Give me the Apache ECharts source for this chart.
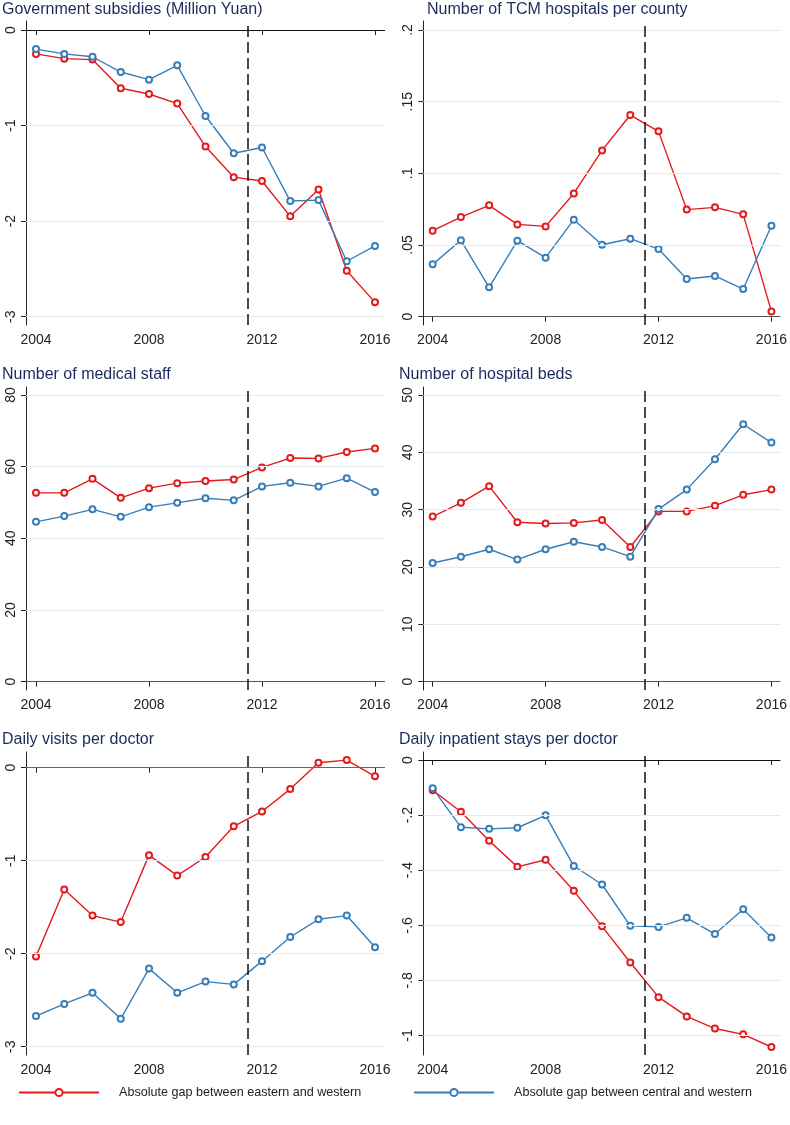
<!DOCTYPE html>
<html><head><meta charset="utf-8">
<script src="https://cdn.jsdelivr.net/npm/echarts@6/dist/echarts.min.js"></script>
<style>html,body{margin:0;padding:0;background:#fff}#c{width:790px;height:1125px}</style>
</head><body><div id="c"></div>
<script>
// ---------- DATA ----------
const years = [2004,2005,2006,2007,2008,2009,2010,2011,2012,2013,2014,2015,2016];
const seriesNames = ['Absolute gap between eastern and western', 'Absolute gap between central and western'];
const xTicks = [2004, 2008, 2012, 2016];
const reformYear = 2011.5;

const titles = ['Government subsidies (Million Yuan)', 'Number of TCM hospitals per county',
  'Number of medical staff', 'Number of hospital beds',
  'Daily visits per doctor', 'Daily inpatient stays per doctor'];

const subsidyEast    = [-0.25,-0.30,-0.31,-0.61,-0.67,-0.77,-1.22,-1.54,-1.58,-1.95,-1.67,-2.52,-2.85];
const subsidyCentral = [-0.20,-0.25,-0.28,-0.44,-0.52,-0.37,-0.90,-1.29,-1.23,-1.79,-1.78,-2.42,-2.26];
const subsidyTicks   = [0,-1,-2,-3];

const tcmEast    = [0.060,0.0695,0.0777,0.0644,0.0630,0.0860,0.116,0.1407,0.1293,0.0747,0.0763,0.0714,0.0037];
const tcmCentral = [0.0365,0.0533,0.0205,0.0530,0.0412,0.0677,0.0502,0.0544,0.0472,0.0263,0.0284,0.0193,0.0635];
const tcmTicks   = [0,0.05,0.1,0.15,0.2];

const staffEast    = [52.7,52.7,56.6,51.3,54.0,55.4,56.0,56.4,59.8,62.4,62.3,64.1,65.1];
const staffCentral = [44.6,46.2,48.1,46.0,48.7,49.9,51.2,50.6,54.5,55.5,54.5,56.8,52.9];
const staffTicks   = [0,20,40,60,80];

const bedsEast    = [28.8,31.2,34.1,27.8,27.6,27.7,28.2,23.5,29.7,29.7,30.7,32.6,33.5];
const bedsCentral = [20.7,21.8,23.1,21.3,23.1,24.4,23.5,21.8,30.1,33.5,38.8,44.9,41.7];
const bedsTicks   = [0,10,20,30,40,50];

const visitsEast    = [-2.03,-1.31,-1.59,-1.66,-0.94,-1.16,-0.96,-0.63,-0.47,-0.23,0.054,0.082,-0.093];
const visitsCentral = [-2.67,-2.54,-2.42,-2.70,-2.16,-2.42,-2.30,-2.33,-2.08,-1.82,-1.63,-1.59,-1.93];
const visitsTicks   = [0,-1,-2,-3];

const staysEast    = [-0.110,-0.188,-0.293,-0.388,-0.362,-0.475,-0.604,-0.735,-0.861,-0.931,-0.975,-0.996,-1.042];
const staysCentral = [-0.103,-0.244,-0.250,-0.246,-0.201,-0.385,-0.452,-0.602,-0.606,-0.573,-0.632,-0.542,-0.644];
const staysTicks   = [0,-0.2,-0.4,-0.6,-0.8,-1];

// ---------- LAYOUT / STYLE ----------
const FONT = 'Liberation Sans, Arial, Helvetica, sans-serif';
const RED = '#e41a1c', BLUE = '#377eb8';
const GRIDC = '#e4ecef';
const cols = [
  {left: 26, width: 359, xmin: 2003.646, xmax: 2016.354},
  {left: 423.3, width: 358.4, xmin: 2003.668, xmax: 2016.318}
];
const rows = [
  {top: 21, height: 304, titleTop: -3},
  {top: 387, height: 303, titleTop: 362},
  {top: 752, height: 303, titleTop: 727}
];
const panels = [
  {east: subsidyEast, central: subsidyCentral, ticks: subsidyTicks, min: -3.087, max: 0.094, zero: '#111', titleLeft: 2},
  {east: tcmEast, central: tcmCentral, ticks: tcmTicks, min: -0.0058, max: 0.2063, zero: '#555', titleLeft: 427},
  {east: staffEast, central: staffCentral, ticks: staffTicks, min: -2.32, max: 82.23, zero: '#555', titleLeft: 2},
  {east: bedsEast, central: bedsCentral, ticks: bedsTicks, min: -1.45, max: 51.40, zero: '#555', titleLeft: 399},
  {east: visitsEast, central: visitsCentral, ticks: visitsTicks, min: -3.089, max: 0.169, zero: '#666', titleLeft: 2},
  {east: staysEast, central: staysCentral, ticks: staysTicks, min: -1.071, max: 0.029, zero: '#111', titleLeft: 399}
];

function fmt(v) {
  let s = String(+Number(v).toFixed(4));
  return s.replace(/^(-?)0\./, '$1.');
}

const option = {
  backgroundColor: '#fff',
  animation: false,
  textStyle: {fontFamily: FONT},
  title: [], grid: [], xAxis: [], yAxis: [], series: [],
  legend: [
    {left: 13, top: 1081, itemWidth: 80, itemHeight: 9, data: [seriesNames[0]],
     textStyle: {fontFamily: FONT, fontSize: 12.6, color: '#222', padding: [0,0,0,15]}, selectedMode: false},
    {left: 408, top: 1081, itemWidth: 80, itemHeight: 9, data: [seriesNames[1]],
     textStyle: {fontFamily: FONT, fontSize: 12.6, color: '#222', padding: [0,0,0,15]}, selectedMode: false}
  ]
};

panels.forEach((p, i) => {
  const c = cols[i % 2], r = rows[Math.floor(i / 2)];
  option.title.push({text: titles[i], left: p.titleLeft - 5, top: r.titleTop,
    textStyle: {fontFamily: FONT, fontSize: 16, fontWeight: 'normal', color: '#1b2a5c'}});
  option.grid.push({left: c.left, top: r.top, width: c.width, height: r.height});
  option.xAxis.push({type: 'value', gridIndex: i, min: c.xmin, max: c.xmax, offset: 1,
    axisLine: {show: false},
    axisTick: {show: true, length: 5, customValues: xTicks, lineStyle: {color: '#222'}},
    axisLabel: {customValues: xTicks, margin: 7, fontSize: 14, color: '#222', fontFamily: FONT, formatter: v => String(v)},
    splitLine: {show: false}});
  option.yAxis.push({type: 'value', gridIndex: i, min: p.min, max: p.max,
    axisLine: {show: true, onZero: false, lineStyle: {color: '#222', width: 1}},
    axisTick: {show: true, length: 5, customValues: p.ticks, lineStyle: {color: '#222'}},
    axisLabel: {customValues: p.ticks, rotate: 90, margin: 8, fontSize: 14, color: '#222', fontFamily: FONT, formatter: fmt},
    splitLine: {show: false}});
  const mlData = p.ticks.filter(v => v !== 0).map(v => ({yAxis: v, lineStyle: {color: GRIDC, width: 1, type: 'solid'}}));
  mlData.push({yAxis: 0, lineStyle: {color: p.zero, width: 1.2, type: 'solid'}});
  mlData.push({xAxis: reformYear, lineStyle: {color: '#111', width: 1.5, type: [11, 5]}});
  option.series.push({type: 'line', name: 'ref' + i, xAxisIndex: i, yAxisIndex: i, data: [], z: 1,
    markLine: {silent: true, symbol: 'none', label: {show: false}, animation: false, data: mlData}});
  [[p.east, RED, 0], [p.central, BLUE, 1]].forEach(([vals, col, k]) => {
    option.series.push({type: 'line', name: seriesNames[k], xAxisIndex: i, yAxisIndex: i, z: 3,
      data: years.map((y, j) => [y, vals[j]]),
      symbol: 'emptyCircle', symbolSize: 6, showAllSymbol: true,
      lineStyle: {color: col, width: 1.4}, itemStyle: {color: col, borderColor: col, borderWidth: 1.2}});
  });
});

const chart = echarts.init(document.getElementById('c'), null, {renderer: 'canvas'});
chart.setOption(option);
</script></body></html>
